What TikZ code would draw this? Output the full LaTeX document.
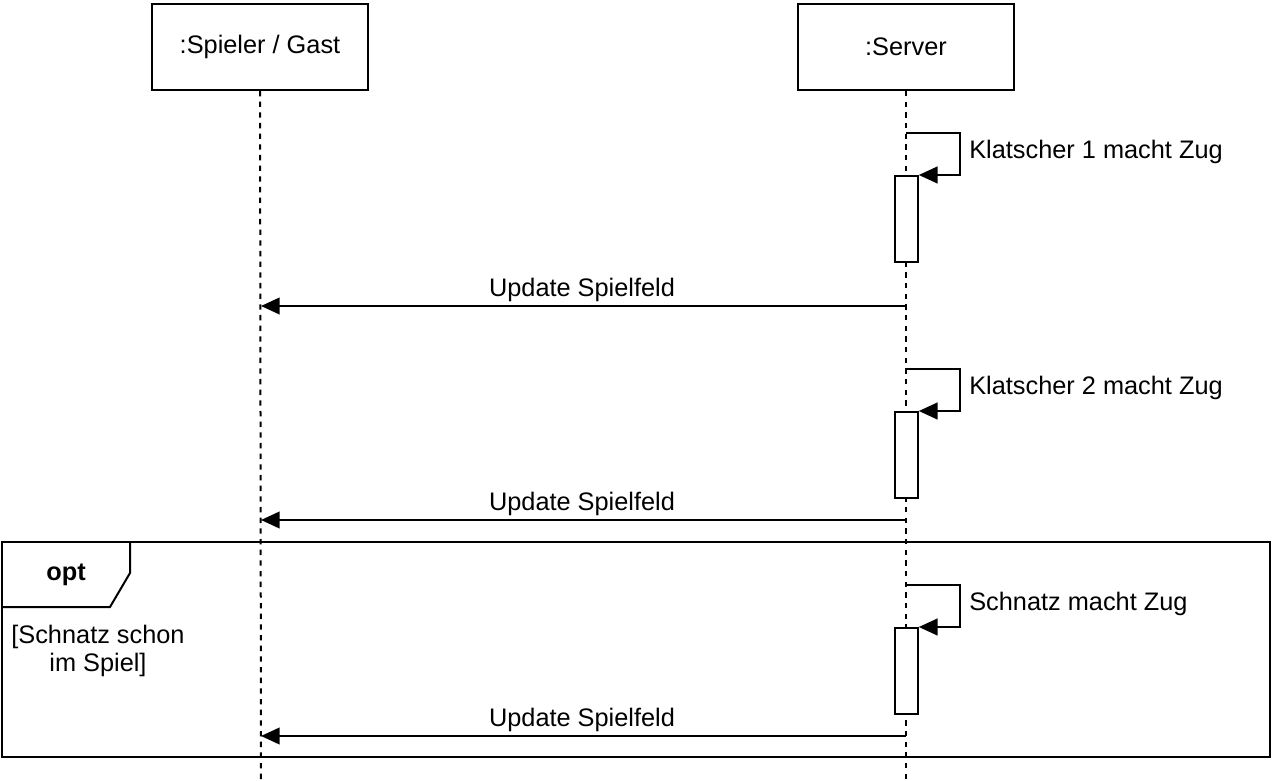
\documentclass[tikz,border=0pt]{standalone}
\usepackage{fontspec}
\setmainfont{Liberation Sans}
\usetikzlibrary{arrows.meta}

\tikzset{
  lifebox/.style={draw,line width=1.5pt,fill=white,minimum width=162pt,minimum height=64.5pt,inner sep=0.75pt},
  lifeline/.style={line width=1.5pt,dash pattern=on 4pt off 4pt},
  actbox/.style={draw,line width=1.5pt,fill=white,minimum width=17pt,minimum height=64.5pt,inner sep=0pt},
  msg/.style={line width=1.5pt,-{Triangle[length=14pt,width=12.5pt]}},
  frame/.style={line width=1.5pt},
}

\begin{document}
\begin{tikzpicture}[x=0.75pt,y=0.75pt,yscale=-1,xscale=1,font=\fontsize{19}{21}\selectfont]
\useasboundingbox (0,0) rectangle (1272,781);

% Lifelines
\node [lifebox] (spieler) at (260,47) {:Spieler / Gast};
\node [lifebox] (server) at (906,47) {:Server};
\coordinate (spielerend) at (261,781);
\coordinate (serverend) at (906,781);
\draw [lifeline] (spieler) -- (spielerend);
\draw [lifeline] (server) -- (serverend);

% opt frame
\draw [frame] (2,542) rectangle (1270,757);
\draw [frame] (2,607) -- (110,607) -- (130,573) -- (130,542);
\node [font=\fontsize{19}{21}\bfseries] (optlbl) at (66,575) {opt};
\node [align=center,inner sep=0.75pt] (guard) at (98,651) {[Schnatz schon\\im Spiel]};

% Klatscher 1
\coordinate (k1) at (906,133);
\node [actbox] (act1) at (906.5,219) {};
\draw [msg] (k1) -- (960,133) |- (act1.north east);
\node [anchor=west,inner sep=0.75pt] (k1lbl) at (968,152) {Klatscher 1 macht Zug};

% Update 1
\coordinate (u1s) at (906,306);
\coordinate (u1e) at (261,306);
\draw [msg] (u1s) -- (u1e);
\node [inner sep=0.75pt] (u1lbl) at (582,290) {Update Spielfeld};

% Klatscher 2
\coordinate (k2) at (906,369);
\node [actbox] (act2) at (906.5,455) {};
\draw [msg] (k2) -- (960,369) |- (act2.north east);
\node [anchor=west,inner sep=0.75pt] (k2lbl) at (968,388) {Klatscher 2 macht Zug};

% Update 2
\coordinate (u2s) at (906,520);
\coordinate (u2e) at (261,520);
\draw [msg] (u2s) -- (u2e);
\node [inner sep=0.75pt] (u2lbl) at (582,504) {Update Spielfeld};

% Schnatz
\coordinate (sz) at (906,585);
\node [actbox] (act3) at (906.5,671) {};
\draw [msg] (sz) -- (960,585) |- (act3.north east);
\node [anchor=west,inner sep=0.75pt] (szlbl) at (968,604) {Schnatz macht Zug};

% Update 3
\coordinate (u3s) at (906,736);
\coordinate (u3e) at (261,736);
\draw [msg] (u3s) -- (u3e);
\node [inner sep=0.75pt] (u3lbl) at (582,720) {Update Spielfeld};

\end{tikzpicture}
\end{document}
